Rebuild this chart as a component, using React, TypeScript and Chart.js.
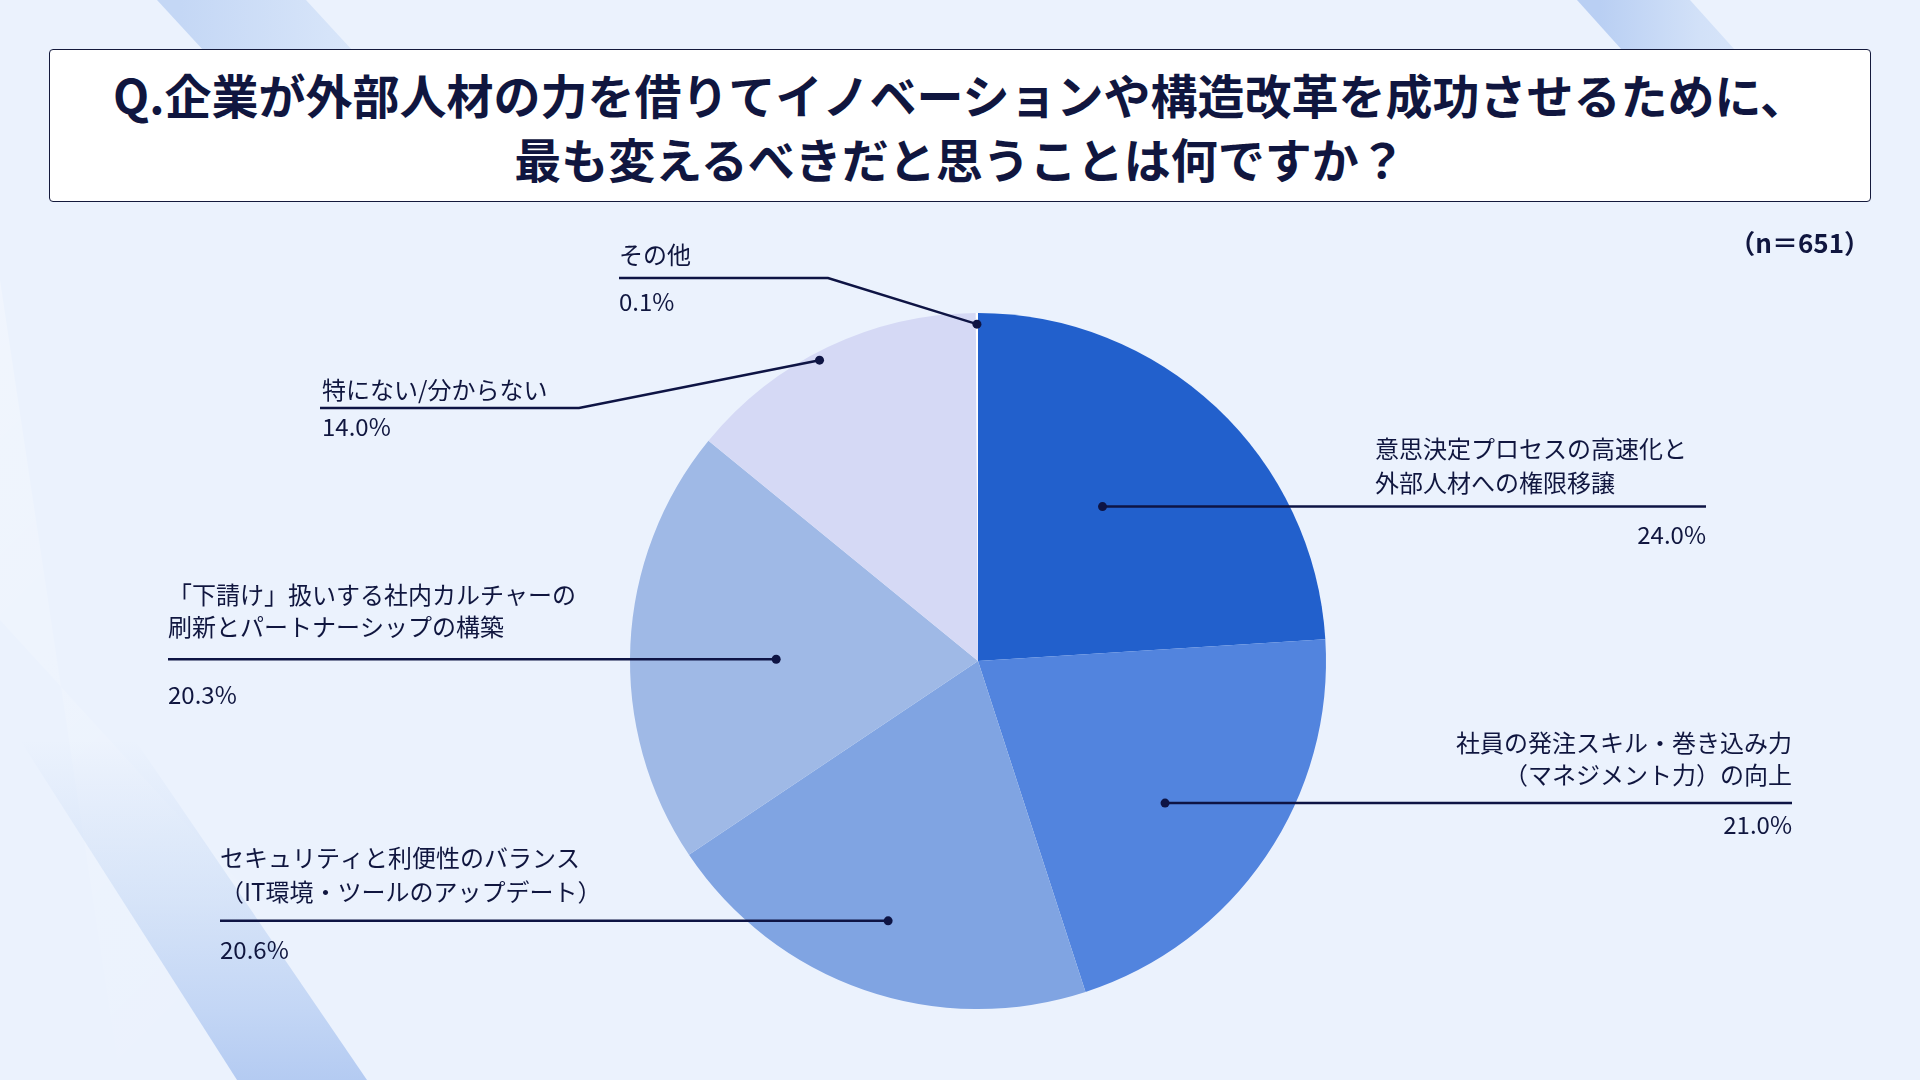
import React, { useEffect, useRef } from 'react';
import { Chart, registerables, ChartConfiguration, Plugin } from 'chart.js';

Chart.register(...registerables);

// answers, clockwise from 12 o'clock
const categories: string[][] = [
  ['意思決定プロセスの高速化と', '外部人材への権限移譲'],
  ['社員の発注スキル・巻き込み力', '（マネジメント力）の向上'],
  ['セキュリティと利便性のバランス', '（IT環境・ツールのアップデート）'],
  ['「下請け」扱いする社内カルチャーの', '刷新とパートナーシップの構築'],
  ['特にない/分からない'],
  ['その他'],
];
const shares: number[] = [24.0, 21.0, 20.6, 20.3, 14.0, 0.1];
const sliceColors: string[] = ['#2260CC', '#5284DE', '#80A4E2', '#9FB9E6', '#D5D9F5', '#FFFFFF'];

const titleLines = [
  'Q.企業が外部人材の力を借りてイノベーションや構造改革を成功させるために、',
  '最も変えるべきだと思うことは何ですか？',
];
const sampleNote = '（n＝651）';

const INK = '#10163F';
const FONT = '"Noto Sans CJK JP", "Noto Sans", sans-serif';

// where each leader line goes: f = position along the slice, rf = share of radius
type Leader = {
  f: number;
  rf: number;
  elbow?: [number, number];
  end: number;
  textX: number;
  align: CanvasTextAlign;
  textY: number[];
  pctX: number;
  pctAlign: CanvasTextAlign;
  pctY: number;
};
const leaders: Leader[] = [
  { f: 0.45, rf: 0.57, end: 1706, textX: 1375, align: 'left', textY: [449, 483], pctX: 1706, pctAlign: 'right', pctY: 535 },
  { f: 0.54, rf: 0.675, end: 1792, textX: 1792, align: 'right', textY: [743, 775], pctX: 1792, pctAlign: 'right', pctY: 825 },
  { f: 0.5, rf: 0.79, end: 220, textX: 220, align: 'left', textY: [858, 892], pctX: 220, pctAlign: 'left', pctY: 950 },
  { f: 0.47, rf: 0.58, end: 168, textX: 168, align: 'left', textY: [595, 627], pctX: 168, pctAlign: 'left', pctY: 695 },
  { f: 0.456, rf: 0.977, elbow: [579, 408], end: 320, textX: 322, align: 'left', textY: [390], pctX: 322, pctAlign: 'left', pctY: 427 },
  { f: 0.5, rf: 0.968, elbow: [828, 278], end: 619, textX: 619, align: 'left', textY: [255], pctX: 619, pctAlign: 'left', pctY: 302 },
];

const leaderPlugin: Plugin<'pie'> = {
  id: 'leaderLabels',
  afterDatasetsDraw(chart) {
    const ctx = chart.ctx;
    const meta = chart.getDatasetMeta(0);
    meta.data.forEach((el, i) => {
      const cfg = leaders[i];
      if (!cfg) return;
      const p = (el as any).getProps(['x', 'y', 'startAngle', 'endAngle', 'outerRadius'], true);
      const a = p.startAngle + cfg.f * (p.endAngle - p.startAngle);
      const r = cfg.rf * p.outerRadius;
      const dx = p.x + Math.cos(a) * r;
      const dy = p.y + Math.sin(a) * r;

      ctx.save();
      ctx.strokeStyle = '#0E1444';
      ctx.lineWidth = 2.5;
      ctx.beginPath();
      ctx.moveTo(dx, dy);
      let lineY = dy;
      if (cfg.elbow) {
        ctx.lineTo(cfg.elbow[0], cfg.elbow[1]);
        lineY = cfg.elbow[1];
      }
      ctx.lineTo(cfg.end, lineY);
      ctx.stroke();

      ctx.fillStyle = '#0E1444';
      ctx.beginPath();
      ctx.arc(dx, dy, 4.5, 0, Math.PI * 2);
      ctx.fill();

      ctx.fillStyle = INK;
      ctx.font = `24px ${FONT}`;
      ctx.textBaseline = 'middle';
      ctx.textAlign = cfg.align;
      categories[i].forEach((line, k) => ctx.fillText(line, cfg.textX, cfg.textY[k]));
      ctx.textAlign = cfg.pctAlign;
      ctx.fillText(`${shares[i].toFixed(1)}%`, cfg.pctX, cfg.pctY);
      ctx.restore();
    });
  },
};

function Band({ points, background }: { points: string; background: string }) {
  return (
    <div
      style={{
        position: 'absolute',
        left: 0,
        top: 0,
        width: 1920,
        height: 1080,
        clipPath: `polygon(${points})`,
        background,
      }}
    />
  );
}

export default function App() {
  const canvasRef = useRef<HTMLCanvasElement | null>(null);

  useEffect(() => {
    if (!canvasRef.current) return;
    const ctx = canvasRef.current.getContext('2d');
    if (!ctx) return;

    const config: ChartConfiguration<'pie', number[], string> = {
      type: 'pie',
      data: {
        labels: categories.map((c) => c.join('')),
        datasets: [
          {
            data: shares,
            backgroundColor: sliceColors,
            borderWidth: 0,
          },
        ],
      },
      options: {
        responsive: false,
        animation: false,
        events: [],
        layout: { padding: { left: 630, right: 594, top: 313, bottom: 71 } },
        plugins: {
          legend: { display: false },
          tooltip: { enabled: false },
        },
      },
      plugins: [leaderPlugin],
    };

    const chart = new Chart(ctx, config);
    return () => {
      chart.destroy();
    };
  }, []);

  return (
    <div
      style={{
        position: 'fixed',
        left: 0,
        top: 0,
        width: 1920,
        height: 1080,
        overflow: 'hidden',
        background: '#EBF2FD',
        fontFamily: FONT,
      }}
    >
      <Band
        points="0px 280px, 0px 620px, 420px 1080px, 120px 1080px"
        background="linear-gradient(135deg, rgba(255,255,255,0.35) 0px, rgba(255,255,255,0.15) 500px, rgba(255,255,255,0) 900px)"
      />
      <Band
        points="157px 0px, 306px 0px, 490px 200px, 341px 200px"
        background="linear-gradient(90deg, #C4D7F5 180px, #D6E4F9 330px, #E4EDFC 460px)"
      />
      <Band
        points="1577px 0px, 1690px 0px, 1870px 200px, 1757px 200px"
        background="linear-gradient(90deg, #B9CFF3 1600px, #D2E1F8 1700px, #E4EDFC 1840px)"
      />
      <Band
        points="20px 740px, 135px 740px, 367px 1080px, 237px 1080px"
        background="linear-gradient(180deg, rgba(200,218,245,0) 740px, rgba(200,218,245,0.6) 900px, #C3D6F5 1010px, #B4CBF2 1080px)"
      />
      <canvas
        ref={canvasRef}
        width={1920}
        height={1080}
        style={{ position: 'absolute', left: 0, top: 0, width: 1920, height: 1080 }}
      />
      <div
        style={{
          position: 'absolute',
          left: 49,
          top: 49,
          width: 1822,
          height: 153,
          boxSizing: 'border-box',
          border: '1.5px solid #141A3C',
          borderRadius: 4,
          background: '#FFFFFF',
          display: 'flex',
          flexDirection: 'column',
          justifyContent: 'center',
          alignItems: 'center',
          color: INK,
          fontSize: 47,
          fontWeight: 700,
          lineHeight: '64px',
        }}
      >
        {titleLines.map((t) => (
          <div key={t}>{t}</div>
        ))}
      </div>
      <div
        style={{
          position: 'absolute',
          right: 50,
          top: 224,
          color: INK,
          fontSize: 26,
          fontWeight: 700,
          lineHeight: '36px',
        }}
      >
        {sampleNote}
      </div>
    </div>
  );
}
